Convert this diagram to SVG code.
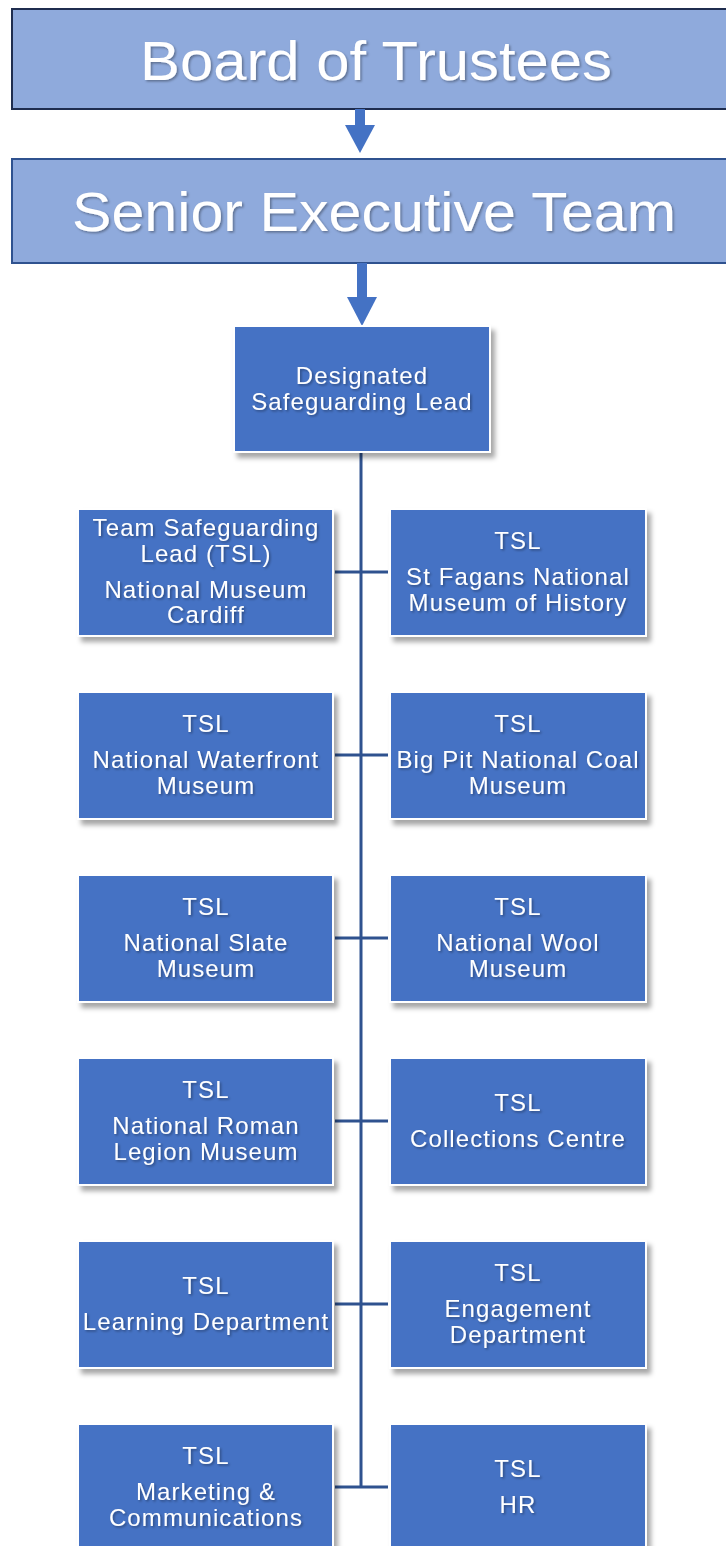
<svg xmlns="http://www.w3.org/2000/svg" width="726" height="1546" viewBox="0 0 726 1546">
<defs>
<filter id="sh" x="-10%" y="-10%" width="130%" height="130%">
<feDropShadow dx="4" dy="5" stdDeviation="2.5" flood-color="#000" flood-opacity="0.35"/>
</filter>
<filter id="tsh" x="-5%" y="-20%" width="110%" height="150%">
<feDropShadow dx="1.5" dy="1.5" stdDeviation="1" flood-color="#000" flood-opacity="0.35"/>
</filter>
<style>
.top{fill:#8faadc;stroke-width:2}
.node{fill:#4472c4;stroke:#fff;stroke-width:2;filter:url(#sh)}
.t{font-family:"Liberation Sans",Arial,sans-serif;fill:#fff;text-anchor:middle;filter:url(#tsh)}
.big{font-size:56px}
.s{font-size:24px;letter-spacing:1.1px}
.line{stroke:#2f528f;stroke-width:3;fill:none}
.arr{fill:#4472c4}
</style>
</defs>
<g id="board">
<rect class="top" x="12" y="9" width="730" height="100" stroke="#1f2d4f"/>
<text class="t big" x="376" y="80" textLength="472" lengthAdjust="spacingAndGlyphs">Board of Trustees</text>
</g>
<g id="senior">
<rect class="top" x="12" y="159" width="730" height="104" stroke="#2f528f"/>
<text class="t big" x="374" y="231" textLength="604" lengthAdjust="spacingAndGlyphs">Senior Executive Team</text>
</g>
<g id="connectors">
<rect class="arr" x="355" y="109" width="10" height="17"/>
<polygon class="arr" points="345,125 375,125 360,153"/>
<rect class="arr" x="357" y="263" width="10" height="35"/>
<polygon class="arr" points="347,297 377,297 362,326"/>
<line class="line" x1="361" y1="452" x2="361" y2="1488"/>
<line class="line" x1="335" y1="572" x2="388" y2="572"/>
<line class="line" x1="335" y1="755" x2="388" y2="755"/>
<line class="line" x1="335" y1="938" x2="388" y2="938"/>
<line class="line" x1="335" y1="1121" x2="388" y2="1121"/>
<line class="line" x1="335" y1="1304" x2="388" y2="1304"/>
<line class="line" x1="335" y1="1487" x2="388" y2="1487"/>
</g>
<g id="dsl">
<rect class="node" x="234" y="326" width="256" height="126"/>
<text class="t s" x="362" y="384">Designated</text>
<text class="t s" x="362" y="410">Safeguarding Lead</text>
</g>
<g id="tsl-cardiff">
<rect class="node" x="78" y="509" width="255" height="127"/>
<text class="t s" x="206" y="536">Team Safeguarding</text>
<text class="t s" x="206" y="562">Lead (TSL)</text>
<text class="t s" x="206" y="598">National Museum</text>
<text class="t s" x="206" y="623">Cardiff</text>
</g>
<g id="tsl-stfagans">
<rect class="node" x="390" y="509" width="256" height="127"/>
<text class="t s" x="518" y="549">TSL</text>
<text class="t s" x="518" y="585">St Fagans National</text>
<text class="t s" x="518" y="611">Museum of History</text>
</g>
<g id="tsl-waterfront">
<rect class="node" x="78" y="692" width="255" height="127"/>
<text class="t s" x="206" y="732">TSL</text>
<text class="t s" x="206" y="768">National Waterfront</text>
<text class="t s" x="206" y="794">Museum</text>
</g>
<g id="tsl-bigpit">
<rect class="node" x="390" y="692" width="256" height="127"/>
<text class="t s" x="518" y="732">TSL</text>
<text class="t s" x="518" y="768">Big Pit National Coal</text>
<text class="t s" x="518" y="794">Museum</text>
</g>
<g id="tsl-slate">
<rect class="node" x="78" y="875" width="255" height="127"/>
<text class="t s" x="206" y="915">TSL</text>
<text class="t s" x="206" y="951">National Slate</text>
<text class="t s" x="206" y="977">Museum</text>
</g>
<g id="tsl-wool">
<rect class="node" x="390" y="875" width="256" height="127"/>
<text class="t s" x="518" y="915">TSL</text>
<text class="t s" x="518" y="951">National Wool</text>
<text class="t s" x="518" y="977">Museum</text>
</g>
<g id="tsl-roman">
<rect class="node" x="78" y="1058" width="255" height="127"/>
<text class="t s" x="206" y="1098">TSL</text>
<text class="t s" x="206" y="1134">National Roman</text>
<text class="t s" x="206" y="1160">Legion Museum</text>
</g>
<g id="tsl-collections">
<rect class="node" x="390" y="1058" width="256" height="127"/>
<text class="t s" x="518" y="1111">TSL</text>
<text class="t s" x="518" y="1147">Collections Centre</text>
</g>
<g id="tsl-learning">
<rect class="node" x="78" y="1241" width="255" height="127"/>
<text class="t s" x="206" y="1294">TSL</text>
<text class="t s" x="206" y="1330">Learning Department</text>
</g>
<g id="tsl-engagement">
<rect class="node" x="390" y="1241" width="256" height="127"/>
<text class="t s" x="518" y="1281">TSL</text>
<text class="t s" x="518" y="1317">Engagement</text>
<text class="t s" x="518" y="1343">Department</text>
</g>
<g id="tsl-marketing">
<rect class="node" x="78" y="1424" width="255" height="140"/>
<text class="t s" x="206" y="1464">TSL</text>
<text class="t s" x="206" y="1500">Marketing &amp;</text>
<text class="t s" x="206" y="1526">Communications</text>
</g>
<g id="tsl-hr">
<rect class="node" x="390" y="1424" width="256" height="140"/>
<text class="t s" x="518" y="1477">TSL</text>
<text class="t s" x="518" y="1513">HR</text>
</g>
</svg>
